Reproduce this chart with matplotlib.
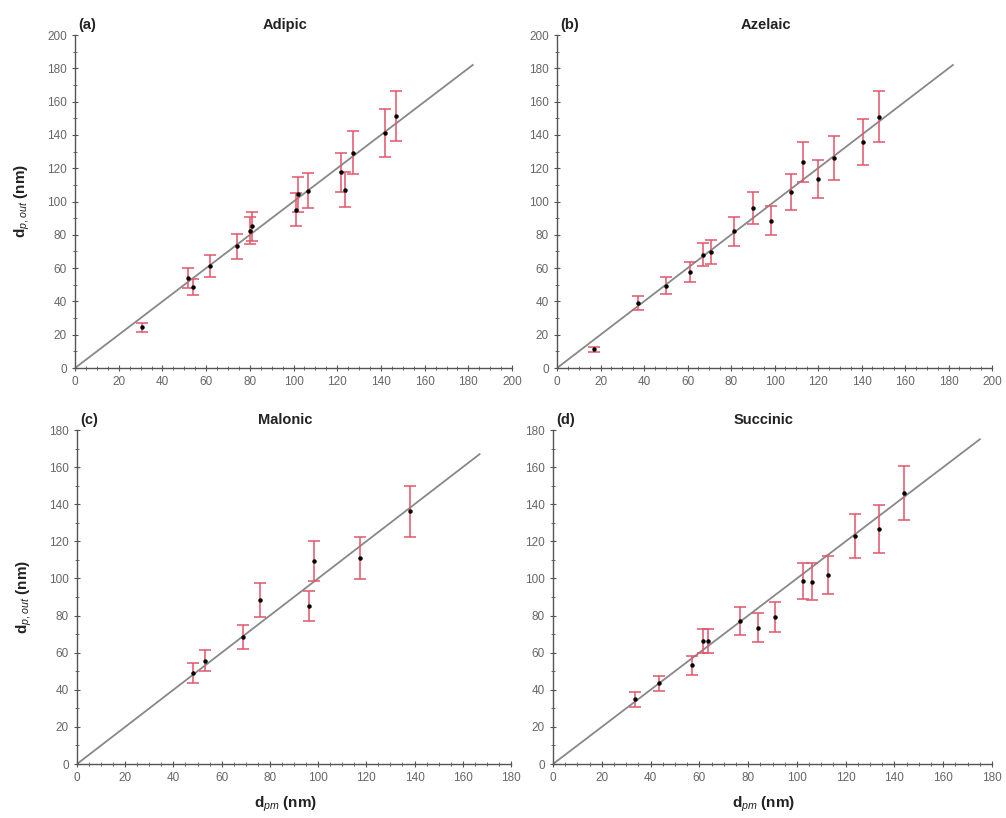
import numpy as np
from matplotlib import pyplot as plt
from matplotlib.ticker import MultipleLocator

plt.rcParams['font.family'] = ['Liberation Sans', 'DejaVu Sans']
plt.rcParams['mathtext.fontset'] = 'custom'
plt.rcParams['mathtext.rm'] = 'Liberation Sans'
plt.rcParams['mathtext.it'] = 'Liberation Sans:italic'
plt.rcParams['mathtext.bf'] = 'Liberation Sans:bold'

# (a) Adipic
adipic_x = [30.5, 51.6, 53.9, 61.8, 74.2, 80.2, 81.2, 101.0, 102.0, 106.4, 121.8, 123.7, 127.2, 142.0, 146.9]
adipic_y = [24.4, 54.0, 48.6, 61.4, 73.0, 82.4, 85.0, 95.0, 104.4, 106.4, 117.6, 107.0, 129.4, 141.4, 151.4]
adipic_e = [2.5, 6.0, 5.0, 6.5, 7.5, 8.0, 8.5, 10.0, 10.5, 10.5, 11.7, 10.5, 12.7, 14.4, 15.0]

# (b) Azelaic
azelaic_x = [17.0, 37.3, 50.3, 61.2, 66.9, 70.9, 81.4, 90.3, 98.2, 107.6, 113.0, 120.0, 127.4, 140.8, 148.1]
azelaic_y = [11.4, 39.0, 49.4, 57.6, 68.0, 69.6, 82.0, 96.0, 88.4, 105.6, 123.6, 113.4, 126.2, 135.6, 151.0]
azelaic_e = [1.5, 4.0, 5.0, 6.0, 7.0, 7.0, 8.5, 9.7, 8.8, 10.8, 12.0, 11.4, 13.0, 13.7, 15.5]

# (c) Malonic
malonic_x = [48.1, 53.0, 68.7, 75.8, 96.1, 98.5, 117.6, 138.3]
malonic_y = [49.0, 55.7, 68.4, 88.4, 85.1, 109.2, 111.0, 136.3]
malonic_e = [5.2, 5.6, 6.5, 9.0, 8.0, 10.8, 11.5, 13.7]

# (d) Succinic
succinic_x = [33.6, 43.6, 57.0, 61.6, 63.7, 76.7, 84.2, 91.1, 102.7, 106.2, 112.7, 123.7, 133.6, 143.8]
succinic_y = [34.8, 43.5, 53.2, 66.5, 66.3, 77.2, 73.5, 79.4, 98.6, 98.3, 101.9, 122.9, 126.8, 145.9]
succinic_e = [3.9, 4.0, 5.0, 6.5, 6.5, 7.5, 7.9, 8.0, 9.8, 9.8, 10.2, 12.0, 13.0, 14.5]

panels = [
    ('(a)', 'Adipic', adipic_x, adipic_y, adipic_e, 200, 182, [0.0746, 0.5501, 0.4344, 0.4071]),
    ('(b)', 'Azelaic', azelaic_x, azelaic_y, azelaic_e, 200, 182, [0.5537, 0.5501, 0.4324, 0.4071]),
    ('(c)', 'Malonic', malonic_x, malonic_y, malonic_e, 180, 167, [0.0765, 0.0660, 0.4314, 0.4083]),
    ('(d)', 'Succinic', succinic_x, succinic_y, succinic_e, 180, 175, [0.5497, 0.0660, 0.4364, 0.4083]),
]

fig = plt.figure(figsize=(10.06, 8.18), dpi=100)

for i, (tag, name, x, y, e, lim, line_end, rect) in enumerate(panels):
    ax = fig.add_axes(rect)
    ax.plot([0, line_end], [0, line_end], color='#888888', lw=1.3, zorder=1)
    ax.errorbar(x, y, yerr=e, fmt='none', ecolor='#e0566a', elinewidth=1.1,
                capsize=4.5, capthick=1.1, zorder=2)
    ax.plot(x, y, 'o', color='black', ms=2.2, zorder=3)

    ax.set_xlim(0, lim)
    ax.set_ylim(0, lim)
    ax.xaxis.set_major_locator(MultipleLocator(20))
    ax.yaxis.set_major_locator(MultipleLocator(20))
    ax.xaxis.set_minor_locator(MultipleLocator(5))
    ax.yaxis.set_minor_locator(MultipleLocator(10))
    for s in ['top', 'right']:
        ax.spines[s].set_visible(False)
    for s in ['left', 'bottom']:
        ax.spines[s].set_color('#555555')
        ax.spines[s].set_linewidth(1.0)
    ax.tick_params(which='major', direction='inout', length=5, width=0.8,
                   colors='#555555', labelsize=8.5, labelcolor='#666666')
    ax.tick_params(which='minor', direction='inout', length=3, width=0.6, colors='#555555')

    ax.text(0.008, 1.01, tag, transform=ax.transAxes, fontsize=10.5,
            fontweight='bold', ha='left', va='bottom', color='#222222')
    ax.text(0.48, 1.01, name, transform=ax.transAxes, fontsize=10.5,
            fontweight='bold', ha='center', va='bottom', color='#222222')

    if i in (0, 2):
        ax.set_ylabel(r'$\mathbf{d}_{p,out}$ (nm)', fontsize=11, fontweight='bold', color='#222222')
        ax.yaxis.set_label_coords(-0.098, 0.5)
    if i in (2, 3):
        ax.set_xlabel(r'$\mathbf{d}_{pm}$ (nm)', fontsize=11, fontweight='bold', color='#222222')
        ax.xaxis.set_label_coords(0.48, -0.093)

plt.savefig('out.png', dpi=100)
